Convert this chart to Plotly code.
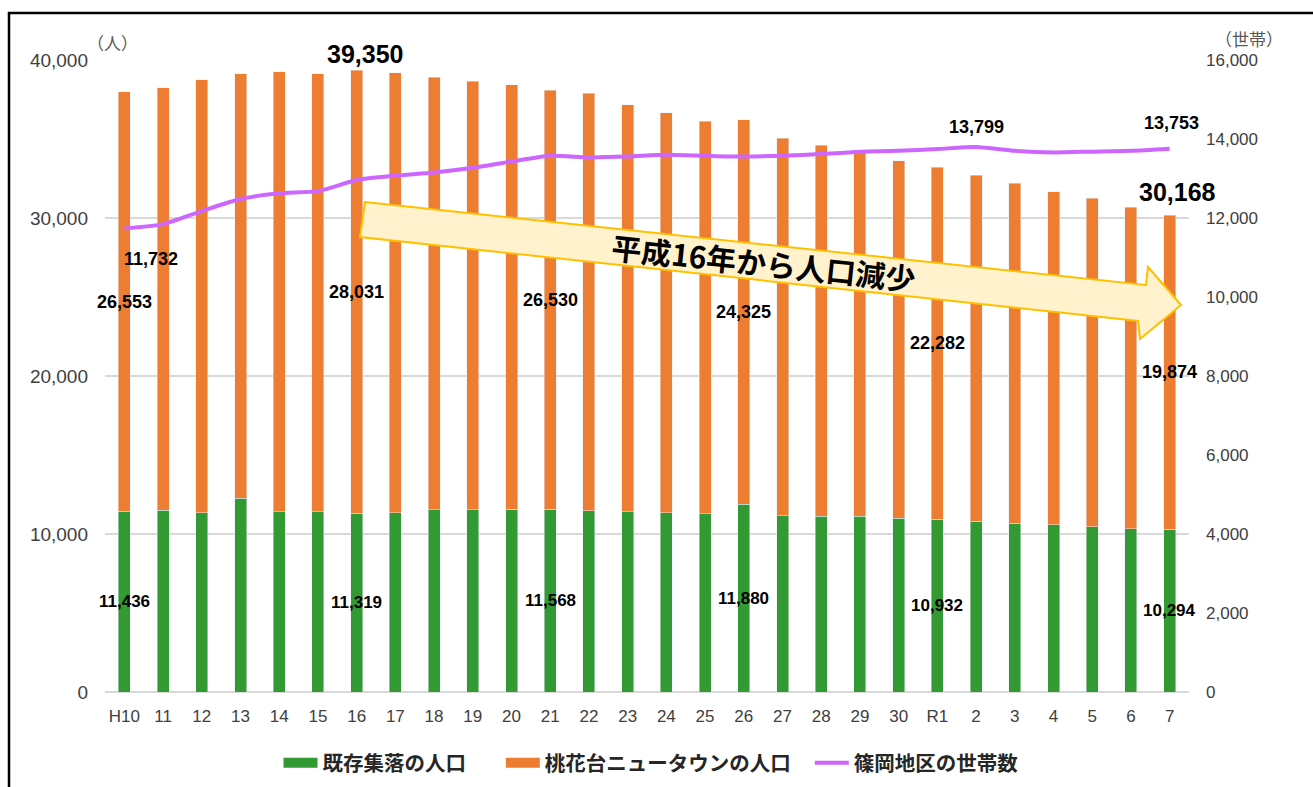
import plotly.graph_objects as go

years = ["H10", "11", "12", "13", "14", "15", "16", "17", "18", "19", "20", "21", "22", "23",
         "24", "25", "26", "27", "28", "29", "30", "R1", "2", "3", "4", "5", "6", "7"]
existing = [11436, 11505, 11338, 12259, 11400, 11400, 11319, 11340, 11526, 11526, 11580, 11568,
            11464, 11400, 11338, 11275, 11880, 11171, 11108, 11108, 10983, 10932, 10815, 10690,
            10586, 10460, 10335, 10294]
newtown = [26553, 26743, 27402, 26878, 27863, 27737, 28031, 27860, 27378, 27132, 26845, 26530,
           26432, 25783, 25320, 24858, 24325, 23891, 23492, 23032, 22653, 22282, 21894, 21494,
           21071, 20779, 20358, 19874]
households = [11732, 11845, 12175, 12480, 12625, 12680, 12960, 13070, 13150, 13270, 13430, 13575,
              13535, 13555, 13600, 13575, 13555, 13575, 13620, 13675, 13700, 13745, 13799, 13700,
              13660, 13680, 13700, 13753]

pop_label_idx = [0, 6, 11, 16, 21, 27]
total_label_idx = [6, 27]
hh_label_idx = [0, 22, 27]

names = ["既存集落の人口", "桃花台ニュータウンの人口", "篠岡地区の世帯数"]
legend_pad = ["\u3000&nbsp;&nbsp;", "&nbsp;&nbsp;&nbsp;", ""]
GREEN = "#339933"
ORANGE = "#ED7D31"
PURPLE = "#CC66FF"

W, H = 1313, 787
ML, MR, MT, MB = 105, 124, 60, 95
PW, PH = W - ML - MR, H - MT - MB

def px(x):
    return (x - ML) / PW

def py(y):
    return (H - MB - y) / PH

xs = list(range(len(years)))
fig = go.Figure()
fig.add_trace(go.Bar(x=xs, y=existing, marker_color=GREEN, name=names[0], showlegend=False))
fig.add_trace(go.Bar(x=xs, y=newtown, marker_color=ORANGE, name=names[1], showlegend=False))
fig.add_trace(go.Scatter(x=xs, y=households, yaxis="y2", mode="lines",
                         line=dict(color=PURPLE, width=4, shape="spline", smoothing=0.6),
                         name=names[2], showlegend=False))
# legend entries
for nm, pad, col in zip(names, legend_pad, [GREEN, ORANGE, PURPLE]):
    w = 13 if col != PURPLE else 4
    fig.add_trace(go.Scatter(x=[None], y=[None], mode="lines", line=dict(color=col, width=w),
                             name=nm + pad, showlegend=True))

annotations = []
lab_font = dict(family="Liberation Sans, Arial", size=18, color="#000000", weight="bold")
for i in pop_label_idx:
    annotations.append(dict(x=i, y=existing[i] / 2, xref="x", yref="y", text=f"{existing[i]:,}",
                            showarrow=False, font=dict(family="Liberation Sans, Arial", size=17,
                                                       color="#000000", weight="bold")))
    annotations.append(dict(x=i, y=existing[i] + newtown[i] / 2, xref="x", yref="y",
                            text=f"{newtown[i]:,}", showarrow=False, font=lab_font))
total_shift = {6: (8, 0), 27: (8, 7)}
for i in total_label_idx:
    dx, dy = total_shift[i]
    annotations.append(dict(x=i, y=existing[i] + newtown[i], xref="x", yref="y",
                            text=f"{existing[i] + newtown[i]:,}", showarrow=False,
                            yanchor="bottom", yshift=dy, xshift=dx,
                            font=dict(family="Liberation Sans, Arial", size=25, color="#000000",
                                      weight="bold")))
hh_shift = {0: (27, -18, "top"), 22: (0, 8, "bottom"), 27: (2, 14, "bottom")}
for i in hh_label_idx:
    xs_, ys_, anc = hh_shift[i]
    annotations.append(dict(x=i, y=households[i], xref="x", yref="y2", text=f"{households[i]:,}",
                            showarrow=False, xshift=xs_, yshift=ys_, yanchor=anc, font=lab_font))

# unit labels
annotations.append(dict(x=px(112), y=py(42), xref="paper", yref="paper", text="（人）",
                        xanchor="center", yanchor="middle", showarrow=False,
                        font=dict(family="Noto Sans CJK JP", size=17, color="#595959")))
annotations.append(dict(x=px(1249), y=py(38), xref="paper", yref="paper", text="（世帯）",
                        xanchor="center", yanchor="middle", showarrow=False,
                        font=dict(family="Noto Sans CJK JP", size=17, color="#595959")))
# arrow text
annotations.append(dict(x=px(763), y=py(262), xref="paper", yref="paper", text="平成16年から人口減少",
                        xanchor="center", yanchor="middle", showarrow=False, textangle=6,
                        font=dict(family="Noto Sans CJK JP", size=30, color="#000000", weight="bold")))

arrow_pts = [(365, 202), (1146, 285), (1148, 267), (1181, 305), (1140, 339), (1138, 321), (360, 237)]
path = "M " + " L ".join(f"{px(a):.5f},{py(b):.5f}" for a, b in arrow_pts) + " Z"
shapes = [
    dict(type="path", path=path, xref="paper", yref="paper", fillcolor="#FFF2CC",
         line=dict(color="#FFC000", width=2), layer="above"),
    dict(type="rect", xref="paper", yref="paper", x0=px(9), x1=px(1330), y0=py(800), y1=py(13),
         line=dict(color="#000000", width=2.5), fillcolor="rgba(0,0,0,0)", layer="below"),
]

fig.update_layout(
    width=W, height=H,
    margin=dict(l=ML, r=MR, t=MT, b=MB, autoexpand=False),
    paper_bgcolor="white", plot_bgcolor="white",
    barmode="stack", bargap=0.69,
    font=dict(family="Liberation Sans, Arial", color="#404040"),
    xaxis=dict(tickmode="array", tickvals=xs, ticktext=years, range=[-0.5, len(years) - 0.5],
               showgrid=False, showline=False, zeroline=False, ticks="",
               tickfont=dict(size=17, color="#404040"), ticklabelstandoff=12),
    yaxis=dict(range=[0, 40000], dtick=10000, tickformat=",", showgrid=True, gridcolor="#D9D9D9",
               gridwidth=1.5, zeroline=True, zerolinecolor="#D9D9D9", zerolinewidth=1.5,
               ticks="", tickfont=dict(size=19, color="#404040"), ticklabelstandoff=16),
    yaxis2=dict(range=[0, 16000], dtick=2000, tickformat=",", overlaying="y", side="right",
                showgrid=False, zeroline=False, ticks="", tickfont=dict(size=17, color="#404040"),
                ticklabelstandoff=16),
    legend=dict(orientation="h", xref="container", yref="container", x=651 / W, xanchor="center",
                y=1 - 763 / H, yanchor="middle", traceorder="normal",
                font=dict(family="Noto Sans CJK JP", size=20.5, color="#262626", weight="bold"),
                itemwidth=34),
    annotations=annotations,
    shapes=shapes,
)

fig.write_html("out.html", config={"displayModeBar": False},
               post_script="document.body.style.margin='0';document.body.style.overflow='hidden';")
